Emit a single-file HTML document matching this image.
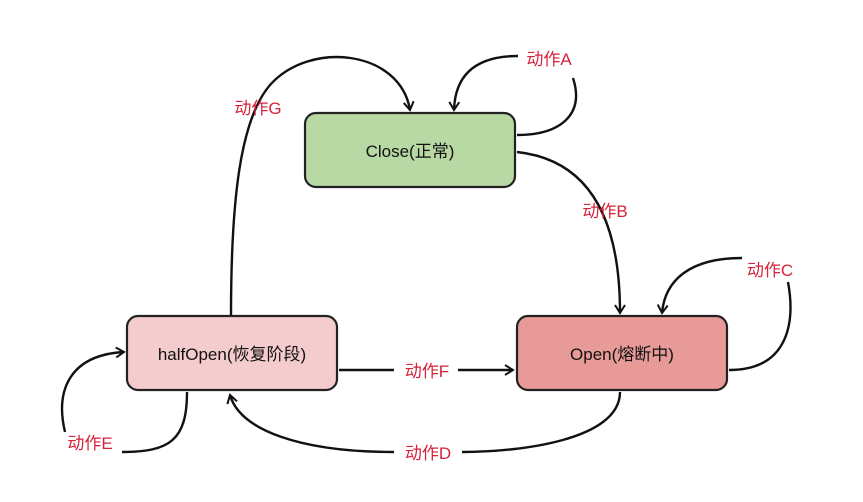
<!DOCTYPE html>
<html><head><meta charset="utf-8"><style>
html,body{margin:0;padding:0;background:#fff;}
svg{display:block;}
.n{font-family:"Liberation Sans","Noto Sans CJK SC",sans-serif;font-size:17px;fill:#111;}
.l{font-family:"Liberation Sans","Noto Sans CJK SC",sans-serif;font-size:17px;fill:#d6223a;}
</style></head><body>
<svg width="863" height="502" viewBox="0 0 863 502" xmlns="http://www.w3.org/2000/svg">
<defs><marker id="a" markerWidth="12" markerHeight="12" refX="9" refY="6" orient="auto" markerUnits="userSpaceOnUse"><path d="M1,1 L9,6 L1,11" fill="none" stroke="#111" stroke-width="2"/></marker></defs>
<g fill="none" stroke="#111" stroke-width="2.4">
<path d="M231,316 C231,200 240,120 270,85 C310,40 400,50 410,110" marker-end="url(#a)"/>
<path d="M517,135 C560,135 585,115 573,78"/>
<path d="M518,56 C470,56 455,80 454,110" marker-end="url(#a)"/>
<path d="M517,152 C590,160 620,220 620,313" marker-end="url(#a)"/>
<path d="M729,370 C790,370 795,320 788,282"/>
<path d="M742,258 C690,258 665,280 662,313" marker-end="url(#a)"/>
<path d="M620,392 C620,440 520,452 462,452"/>
<path d="M394,452 C300,452 240,430 230,395" marker-end="url(#a)"/>
<path d="M187,392 C187,440 170,452 122,452"/>
<path d="M65,432 C55,390 70,355 124,352" marker-end="url(#a)"/>
<path d="M339,370 L394,370"/>
<path d="M458,370 L513,370" marker-end="url(#a)"/>
</g>
<rect x="305" y="113" width="210" height="74" rx="11" fill="#b8d8a4" stroke="#222" stroke-width="2.2"/>
<rect x="127" y="316" width="210" height="74" rx="11" fill="#f5cccd" stroke="#222" stroke-width="2.2"/>
<rect x="517" y="316" width="210" height="74" rx="11" fill="#e89a98" stroke="#222" stroke-width="2.2"/>
<text class="n" x="410" y="157" text-anchor="middle">Close(正常)</text>
<text class="n" x="232" y="360" text-anchor="middle">halfOpen(恢复阶段)</text>
<text class="n" x="622" y="360" text-anchor="middle">Open(熔断中)</text>
<text class="l" x="549" y="65" text-anchor="middle">动作A</text>
<text class="l" x="258" y="114" text-anchor="middle">动作G</text>
<text class="l" x="605" y="217" text-anchor="middle">动作B</text>
<text class="l" x="770" y="276" text-anchor="middle">动作C</text>
<text class="l" x="427" y="377" text-anchor="middle">动作F</text>
<text class="l" x="428" y="459" text-anchor="middle">动作D</text>
<text class="l" x="90" y="449" text-anchor="middle">动作E</text>
</svg>
</body></html>
